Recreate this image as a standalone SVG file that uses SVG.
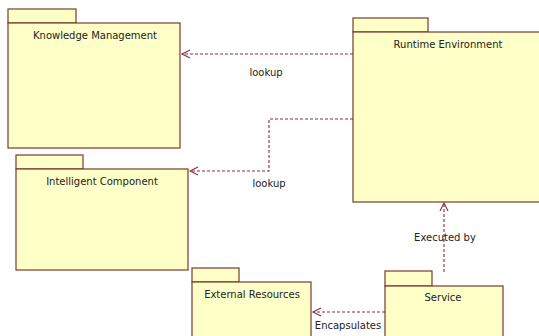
<svg xmlns="http://www.w3.org/2000/svg" width="539" height="336" viewBox="0 0 539 336">
<defs>
<style>
.pk{fill:#ffffc8;stroke:#7a3a2a;stroke-width:1.2}
.t{font-family:"DejaVu Sans","Liberation Sans",sans-serif;font-size:10px;fill:#222;text-anchor:middle}
.c{fill:none;stroke:#8a2e3c;stroke-width:1.1;stroke-dasharray:3,2}
.ah{fill:none;stroke:#8a2e3c;stroke-width:1.1}
</style>
</defs>
<rect width="539" height="336" fill="#fff"/>
<g id="connectors">
<path class="c" d="M353,54 H182"/>
<path class="ah" d="M190,50 L182,54 L190,58"/>
<text class="t" x="266" y="76">lookup</text>
<path class="c" d="M353,119 H269 V171 H190"/>
<path class="ah" d="M198,167 L190,171 L198,175"/>
<text class="t" x="269" y="187">lookup</text>
<path class="c" d="M444,272 V203"/>
<path class="ah" d="M440,211 L444,203 L448,211"/>
<text class="t" x="445" y="241">Executed by</text>
<path class="c" d="M385,312 H313"/>
<path class="ah" d="M321,308 L313,312 L321,316"/>
<text class="t" x="348" y="329">Encapsulates</text>
</g>
<g id="knowledge-management">
<rect class="pk" x="8" y="9" width="68" height="14"/>
<rect class="pk" x="8" y="23" width="172" height="125"/>
<text class="t" x="95" y="39">Knowledge Management</text>
</g>
<g id="runtime-environment">
<rect class="pk" x="353" y="18" width="75" height="14"/>
<rect class="pk" x="353" y="32" width="190" height="170"/>
<text class="t" x="448" y="48">Runtime Environment</text>
</g>
<g id="intelligent-component">
<rect class="pk" x="16" y="155" width="67" height="14"/>
<rect class="pk" x="16" y="169" width="172" height="101"/>
<text class="t" x="102" y="185">Intelligent Component</text>
</g>
<g id="external-resources">
<rect class="pk" x="192" y="268" width="47" height="14"/>
<rect class="pk" x="192" y="282" width="119" height="60"/>
<text class="t" x="252" y="298">External Resources</text>
</g>
<g id="service">
<rect class="pk" x="385" y="271" width="47" height="15"/>
<rect class="pk" x="385" y="286" width="118" height="60"/>
<text class="t" x="443" y="301">Service</text>
</g>
</svg>
